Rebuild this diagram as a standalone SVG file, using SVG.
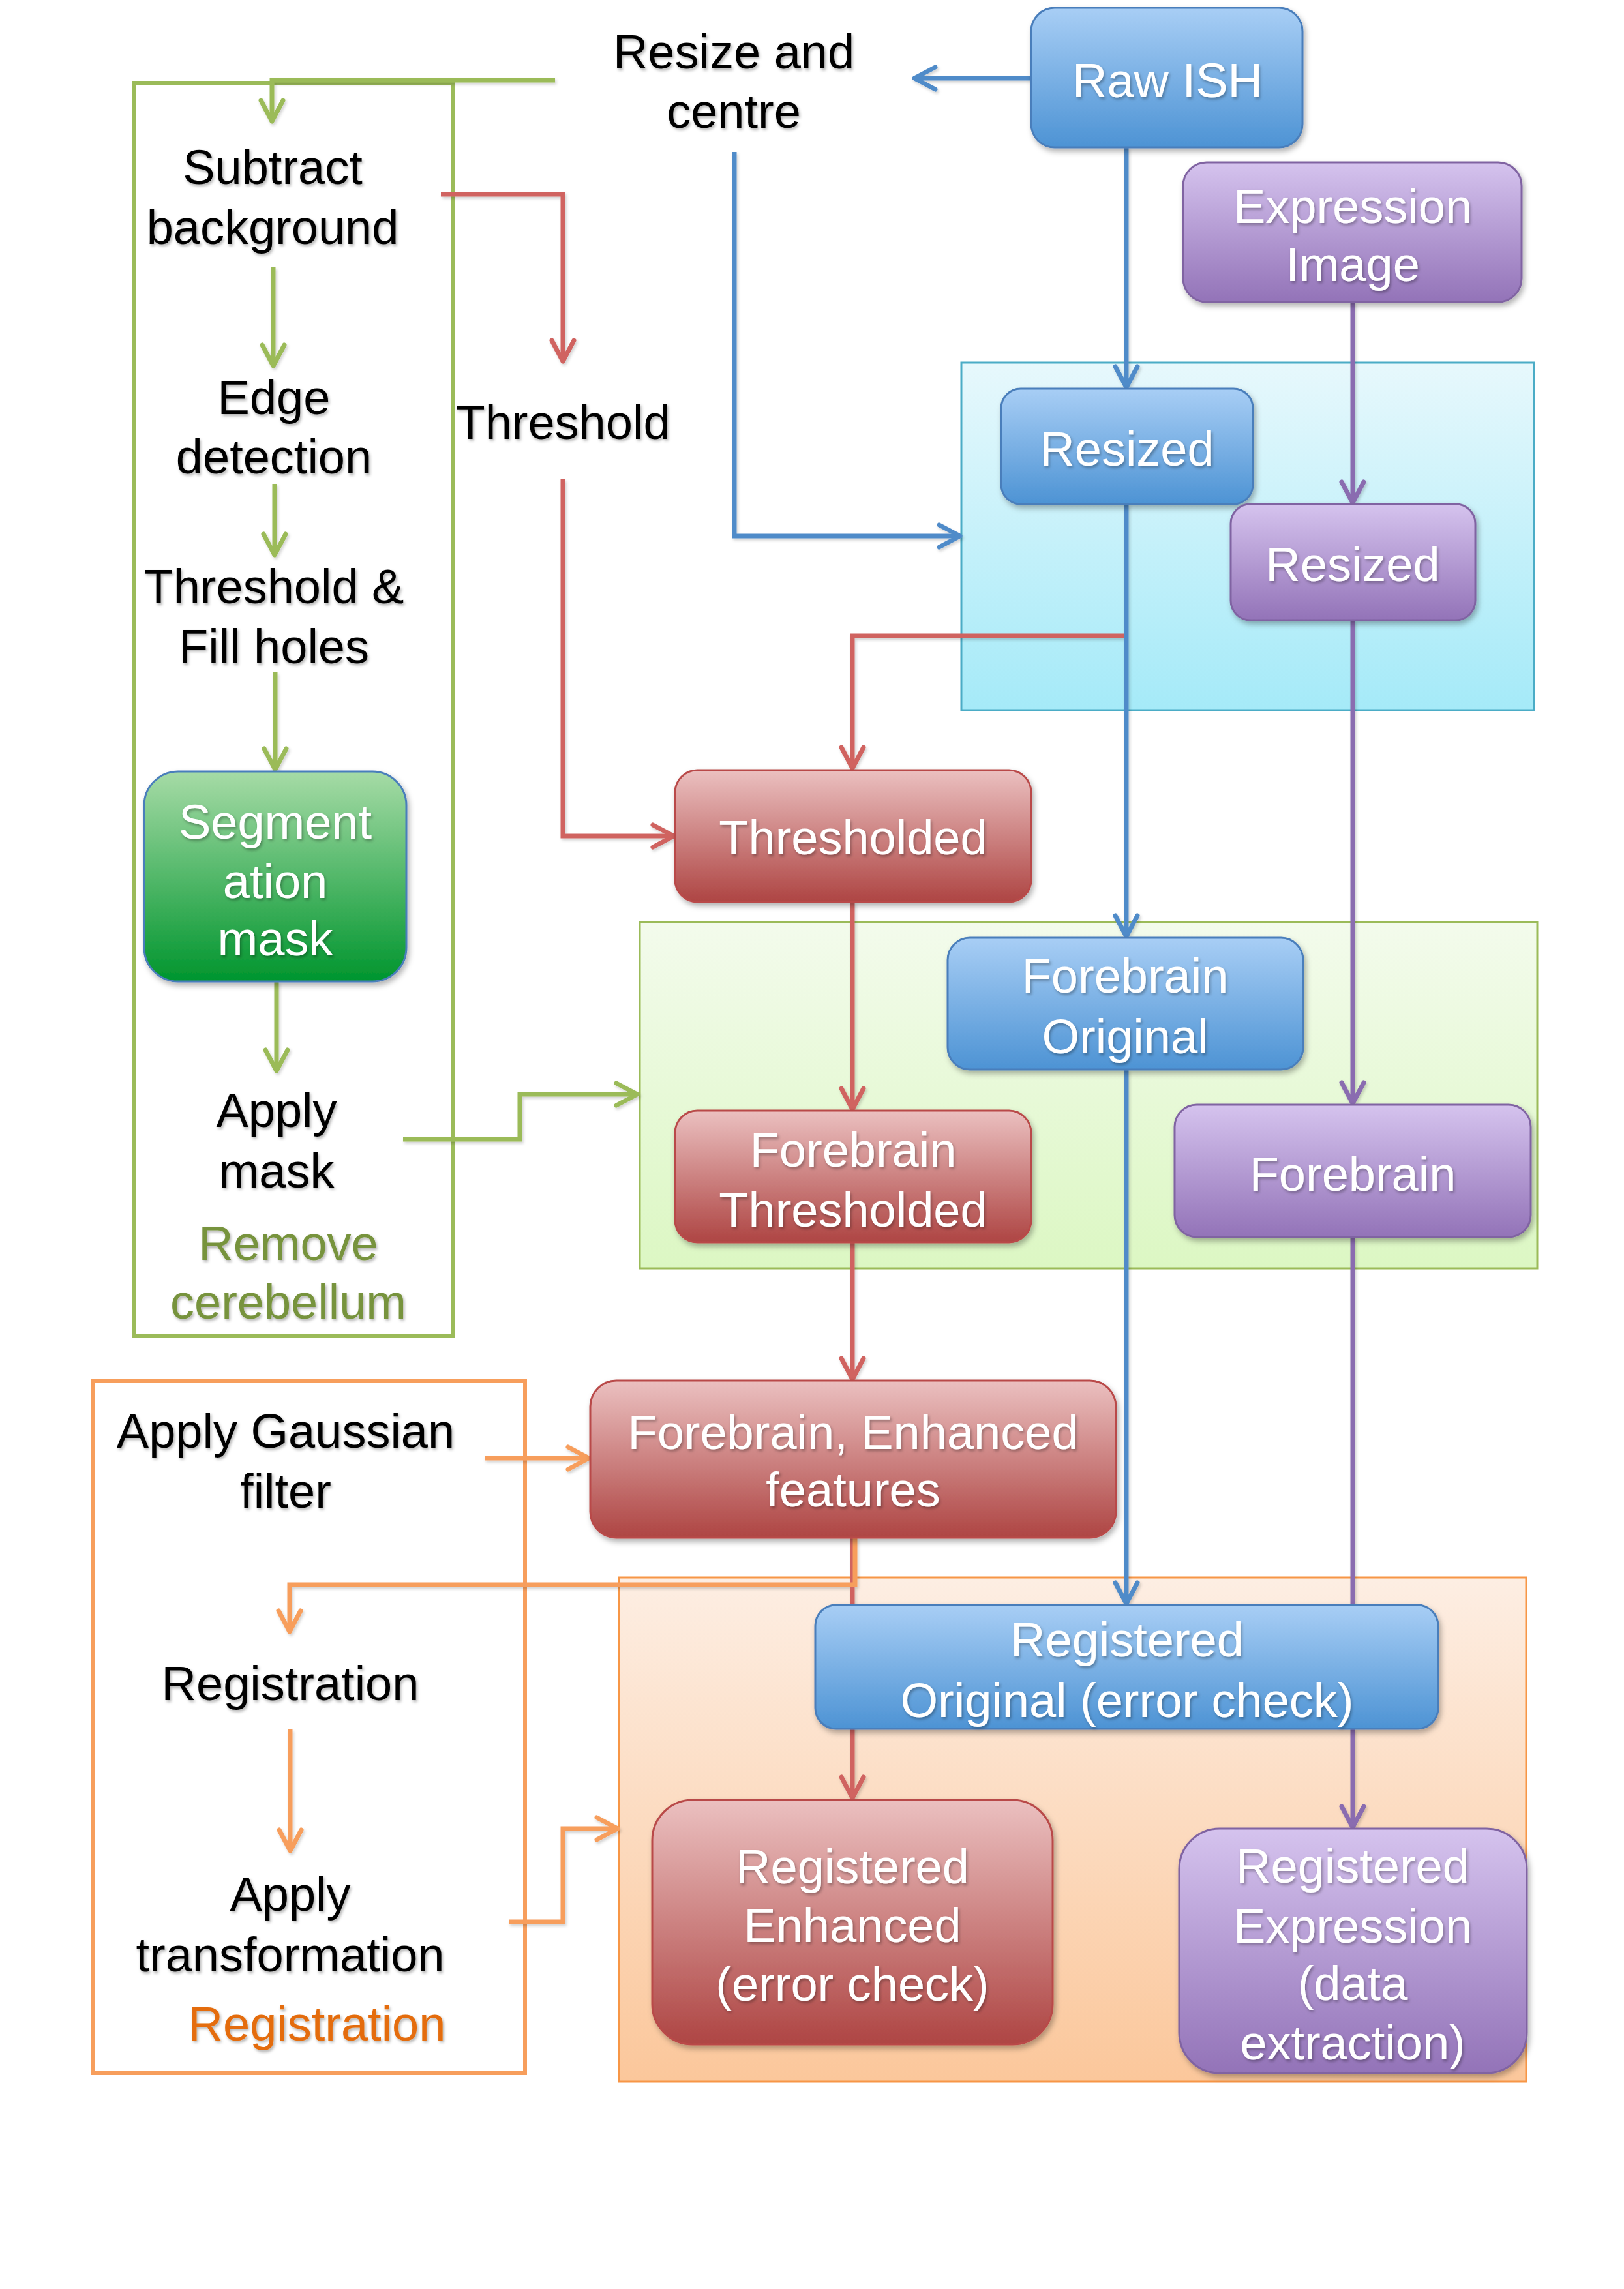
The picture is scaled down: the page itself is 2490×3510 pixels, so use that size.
<svg xmlns="http://www.w3.org/2000/svg" width="2490" height="3510" viewBox="0 0 2490 3510">
<style>
text{font-family:"Liberation Sans",Arial,sans-serif;font-size:74px;text-anchor:middle}
.w{fill:#ffffff;filter:url(#tsh)}
.k{fill:#000000;filter:url(#tsh)}
.ol{fill:#77933C;filter:url(#tsh)}
.or{fill:#E46C0A;filter:url(#tsh)}
.c{fill:none;stroke-width:7;stroke-linejoin:miter}
.cg{stroke:#9BBB59}
.cr{stroke:#D06461}
.cb{stroke:#4F8BC9}
.cp{stroke:#8A6CB0}
.co{stroke:#F79E5C}
.nb{fill:url(#gb);stroke:#4A7EBB;stroke-width:3;filter:url(#nsh)}
.np{fill:url(#gp);stroke:#8064A2;stroke-width:3;filter:url(#nsh)}
.nr{fill:url(#gr);stroke:#B94A48;stroke-width:3;filter:url(#nsh)}
.ng{fill:url(#gg);stroke:#4A7EBB;stroke-width:3;filter:url(#nsh)}
.ah{fill:none;stroke-width:7;stroke-linecap:round;stroke-linejoin:round}
</style>
<defs>
<linearGradient id="gb" x1="0" y1="0" x2="0" y2="1"><stop offset="0" stop-color="#A8CEF5"/><stop offset="1" stop-color="#4D93D4"/></linearGradient>
<linearGradient id="gp" x1="0" y1="0" x2="0" y2="1"><stop offset="0" stop-color="#D5C3EE"/><stop offset="1" stop-color="#9373B8"/></linearGradient>
<linearGradient id="gr" x1="0" y1="0" x2="0" y2="1"><stop offset="0" stop-color="#EBC0C0"/><stop offset="1" stop-color="#AE4543"/></linearGradient>
<linearGradient id="gg" x1="0" y1="0" x2="0" y2="1"><stop offset="0" stop-color="#A6DBA6"/><stop offset="1" stop-color="#00952E"/></linearGradient>
<linearGradient id="gcy" x1="0" y1="0" x2="0" y2="1"><stop offset="0" stop-color="#E7F8FC"/><stop offset="1" stop-color="#A5EAF8"/></linearGradient>
<linearGradient id="ggn" x1="0" y1="0" x2="0" y2="1"><stop offset="0" stop-color="#F3FBEC"/><stop offset="1" stop-color="#DCF7C3"/></linearGradient>
<linearGradient id="gpe" x1="0" y1="0" x2="0" y2="1"><stop offset="0" stop-color="#FDEEE3"/><stop offset="1" stop-color="#FBC79B"/></linearGradient>
<filter id="nsh" x="-10%" y="-10%" width="120%" height="130%"><feDropShadow dx="3" dy="5" stdDeviation="4" flood-color="#000" flood-opacity="0.3"/></filter>
<filter id="tsh" x="-10%" y="-20%" width="120%" height="150%"><feDropShadow dx="2" dy="3" stdDeviation="2" flood-color="#000" flood-opacity="0.3"/></filter>
<filter id="csh" x="-5%" y="-5%" width="110%" height="110%"><feDropShadow dx="2" dy="3" stdDeviation="2" flood-color="#000" flood-opacity="0.18"/></filter>
<marker id="ag" markerUnits="userSpaceOnUse" markerWidth="44" markerHeight="44" viewBox="0 0 44 44" refX="38" refY="22" orient="auto"><path class="ah" d="M6,5 L38,22 L6,39" stroke="#9BBB59"/></marker>
<marker id="ar" markerUnits="userSpaceOnUse" markerWidth="44" markerHeight="44" viewBox="0 0 44 44" refX="38" refY="22" orient="auto"><path class="ah" d="M6,5 L38,22 L6,39" stroke="#D06461"/></marker>
<marker id="ab" markerUnits="userSpaceOnUse" markerWidth="44" markerHeight="44" viewBox="0 0 44 44" refX="38" refY="22" orient="auto"><path class="ah" d="M6,5 L38,22 L6,39" stroke="#4F8BC9"/></marker>
<marker id="ap" markerUnits="userSpaceOnUse" markerWidth="44" markerHeight="44" viewBox="0 0 44 44" refX="38" refY="22" orient="auto"><path class="ah" d="M6,5 L38,22 L6,39" stroke="#8A6CB0"/></marker>
<marker id="ao" markerUnits="userSpaceOnUse" markerWidth="44" markerHeight="44" viewBox="0 0 44 44" refX="38" refY="22" orient="auto"><path class="ah" d="M6,5 L38,22 L6,39" stroke="#F79E5C"/></marker>
</defs>
<rect width="2490" height="3510" fill="#ffffff"/>
<g id="containers">
<rect id="resize-group" x="1474" y="556" width="878" height="533" fill="url(#gcy)" stroke="#4BACC6" stroke-width="3"/>
<rect id="forebrain-group" x="981" y="1414" width="1376" height="531" fill="url(#ggn)" stroke="#9BBB59" stroke-width="3"/>
<rect id="registered-group" x="949" y="2419" width="1391" height="773" fill="url(#gpe)" stroke="#F79646" stroke-width="3"/>
<rect id="remove-cerebellum-box" x="205" y="127" width="489" height="1922" fill="none" stroke="#9BBB59" stroke-width="6"/>
<rect id="registration-box" x="142" y="2117" width="663" height="1062" fill="none" stroke="#F79E5C" stroke-width="6"/>
</g>
<g id="connectors" filter="url(#csh)">
<path class="c cg" d="M851,123 L417,123 L417,186" marker-end="url(#ag)"/>
<path class="c cg" d="M419,410 L419,561" marker-end="url(#ag)"/>
<path class="c cg" d="M421,742 L421,851" marker-end="url(#ag)"/>
<path class="c cg" d="M422,1031 L422,1180" marker-end="url(#ag)"/>
<path class="c cg" d="M424,1505 L424,1642" marker-end="url(#ag)"/>
<path class="c cg" d="M618,1747 L797,1747 L797,1678 L977,1678" marker-end="url(#ag)"/>
<path class="c cr" d="M676,298 L863,298 L863,554" marker-end="url(#ar)"/>
<path class="c cr" d="M863,735 L863,1282 L1033,1282" marker-end="url(#ar)"/>
<path class="c cr" d="M1727,975 L1307,975 L1307,1178" marker-end="url(#ar)"/>
<path class="c cr" d="M1307,1383 L1307,1701" marker-end="url(#ar)"/>
<path class="c cr" d="M1307,1905 L1307,2115" marker-end="url(#ar)"/>
<path class="c cr" d="M1307,2358 L1307,2757" marker-end="url(#ar)"/>
<path class="c cb" d="M1581,120 L1402,120" marker-end="url(#ab)"/>
<path class="c cb" d="M1727,226 L1727,594" marker-end="url(#ab)"/>
<path class="c cb" d="M1126,233 L1126,822 L1472,822" marker-end="url(#ab)"/>
<path class="c cb" d="M1727,773 L1727,1436" marker-end="url(#ab)"/>
<path class="c cb" d="M1727,1640 L1727,2459" marker-end="url(#ab)"/>
<path class="c cp" d="M2074,463 L2074,771" marker-end="url(#ap)"/>
<path class="c cp" d="M2074,951 L2074,1692" marker-end="url(#ap)"/>
<path class="c cp" d="M2074,1897 L2074,2461"/>
<path class="c cp" d="M2074,2651 L2074,2802" marker-end="url(#ap)"/>
<path class="c co" d="M743,2236 L903,2236" marker-end="url(#ao)"/>
<path class="c co" d="M1311,2358 L1311,2430 L444,2430 L444,2502" marker-end="url(#ao)"/>
<path class="c co" d="M445,2652 L445,2838" marker-end="url(#ao)"/>
<path class="c co" d="M780,2947 L863,2947 L863,2804 L947,2804" marker-end="url(#ao)"/>
</g>
<g id="raw-ish"><rect class="nb" x="1581" y="12" width="416" height="214" rx="36"/><text class="w" x="1790" y="149">Raw ISH</text></g>
<g id="expression-image"><rect class="np" x="1814" y="249" width="519" height="214" rx="36"/><text class="w" x="2074" y="342">Expression</text><text class="w" x="2074" y="431">Image</text></g>
<g id="resized-raw"><rect class="nb" x="1535" y="596" width="386" height="177" rx="30"/><text class="w" x="1728" y="714">Resized</text></g>
<g id="resized-expression"><rect class="np" x="1887" y="773" width="375" height="178" rx="30"/><text class="w" x="2074" y="891">Resized</text></g>
<g id="thresholded"><rect class="nr" x="1035" y="1181" width="546" height="202" rx="34"/><text class="w" x="1308" y="1310">Thresholded</text></g>
<g id="forebrain-original"><rect class="nb" x="1453" y="1438" width="545" height="202" rx="34"/><text class="w" x="1725" y="1522">Forebrain</text><text class="w" x="1725" y="1615">Original</text></g>
<g id="forebrain-thresholded"><rect class="nr" x="1035" y="1703" width="546" height="202" rx="34"/><text class="w" x="1308" y="1789">Forebrain</text><text class="w" x="1308" y="1881">Thresholded</text></g>
<g id="forebrain-expression"><rect class="np" x="1801" y="1694" width="546" height="203" rx="34"/><text class="w" x="2074" y="1826">Forebrain</text></g>
<g id="segmentation-mask"><rect class="ng" x="221" y="1183" width="402" height="322" rx="52"/><text class="w" x="422" y="1286">Segment</text><text class="w" x="422" y="1377">ation</text><text class="w" x="422" y="1465">mask</text></g>
<g id="enhanced-features"><rect class="nr" x="905" y="2117" width="806" height="241" rx="40"/><text class="w" x="1308" y="2222">Forebrain, Enhanced</text><text class="w" x="1308" y="2310">features</text></g>
<g id="registered-original"><rect class="nb" x="1250" y="2461" width="955" height="190" rx="32"/><text class="w" x="1728" y="2540">Registered</text><text class="w" x="1728" y="2633">Original (error check)</text></g>
<g id="registered-enhanced"><rect class="nr" x="1000" y="2760" width="614" height="375" rx="62"/><text class="w" x="1307" y="2888">Registered</text><text class="w" x="1307" y="2978">Enhanced</text><text class="w" x="1307" y="3068">(error check)</text></g>
<g id="registered-expression"><rect class="np" x="1808" y="2804" width="533" height="375" rx="62"/><text class="w" x="2074" y="2887">Registered</text><text class="w" x="2074" y="2979">Expression</text><text class="w" x="2074" y="3067">(data</text><text class="w" x="2074" y="3158">extraction)</text></g>
<g id="resize-and-centre"><text class="k" x="1125" y="105">Resize and</text><text class="k" x="1125" y="196">centre</text></g>
<g id="subtract-background"><text class="k" x="418" y="282">Subtract</text><text class="k" x="418" y="374">background</text></g>
<g id="edge-detection"><text class="k" x="420" y="635">Edge</text><text class="k" x="420" y="726">detection</text></g>
<g id="threshold-fill"><text class="k" x="420" y="925">Threshold &amp;</text><text class="k" x="420" y="1017">Fill holes</text></g>
<g id="threshold"><text class="k" x="863" y="673">Threshold</text></g>
<g id="apply-mask"><text class="k" x="424" y="1728">Apply</text><text class="k" x="424" y="1821">mask</text></g>
<g id="remove-cerebellum-label"><text class="ol" x="442" y="1932">Remove</text><text class="ol" x="442" y="2022">cerebellum</text></g>
<g id="apply-gaussian"><text class="k" x="438" y="2220">Apply Gaussian</text><text class="k" x="438" y="2312">filter</text></g>
<g id="registration-step"><text class="k" x="445" y="2607">Registration</text></g>
<g id="apply-transformation"><text class="k" x="445" y="2930">Apply</text><text class="k" x="445" y="3023">transformation</text></g>
<g id="registration-label"><text class="or" x="486" y="3129">Registration</text></g>
</svg>
